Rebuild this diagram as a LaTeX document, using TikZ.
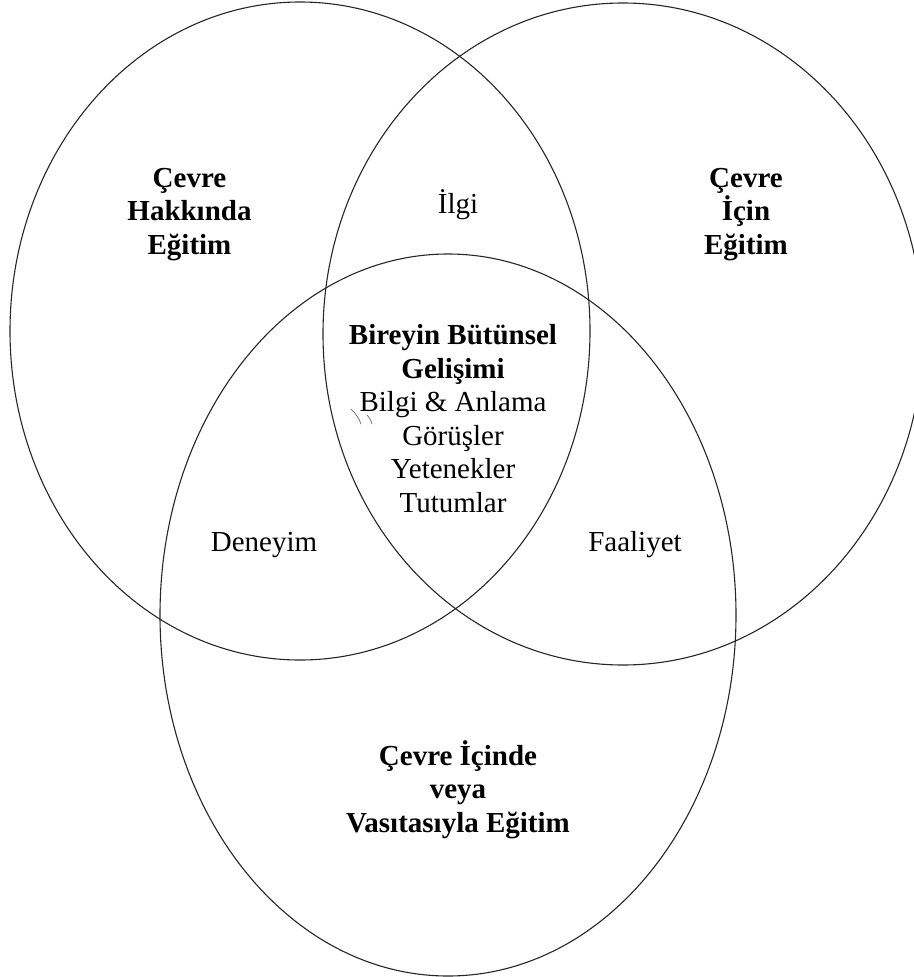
\documentclass[tikz,border=0pt]{standalone}
\usepackage{fontspec}
\setmainfont{Liberation Serif}
\usetikzlibrary{shapes.geometric}
\begin{document}
\begin{tikzpicture}[x=1pt,y=-1pt,
  ring/.style={draw=black!85, line width=1.1pt, ellipse, inner sep=0pt, outer sep=0pt},
  lbl/.style={align=center, font=\fontsize{29}{33.5}\selectfont, anchor=base, inner sep=0pt},
  blbl/.style={lbl, font=\fontsize{29}{33.5}\selectfont\bfseries},
  scribble/.style={draw=black!60, line width=0.7pt, line cap=round}]
\useasboundingbox (0,0) rectangle (913,977);
\node[ring, minimum width=580pt, minimum height=658pt] (L) at (300,331) {};
\node[ring, minimum width=600pt, minimum height=662pt] (R) at (623,334) {};
\node[ring, minimum width=576pt, minimum height=722pt] (B) at (448,615) {};
% multi-line nodes: base anchor sits on the last line
\node[blbl] (tl) at (189.5,254) {Çevre\\Hakkında\\Eğitim};
\node[blbl] (tr) at (746,254) {Çevre\\İçin\\Eğitim};
\node[lbl] (ilgi) at (458,213) {İlgi};
\node[lbl] (core) at (453,512) {\textbf{Bireyin Bütünsel}\\\textbf{Gelişimi}\\Bilgi \& Anlama\\Görüşler\\Yetenekler\\Tutumlar};
\node[lbl] (den) at (264,551) {Deneyim};
\node[lbl] (faa) at (635,551) {Faaliyet};
\node[blbl] (bot) at (458,832) {Çevre İçinde\\veya\\Vasıtasıyla Eğitim};
\coordinate (s1a) at (351,409);
\coordinate (s1b) at (361,424);
\coordinate (s2a) at (367,415);
\coordinate (s2b) at (372,424);
\draw[scribble] (s1a) to[bend left=12] (s1b);
\draw[scribble] (s2a) to[bend left=12] (s2b);
\end{tikzpicture}
\end{document}
